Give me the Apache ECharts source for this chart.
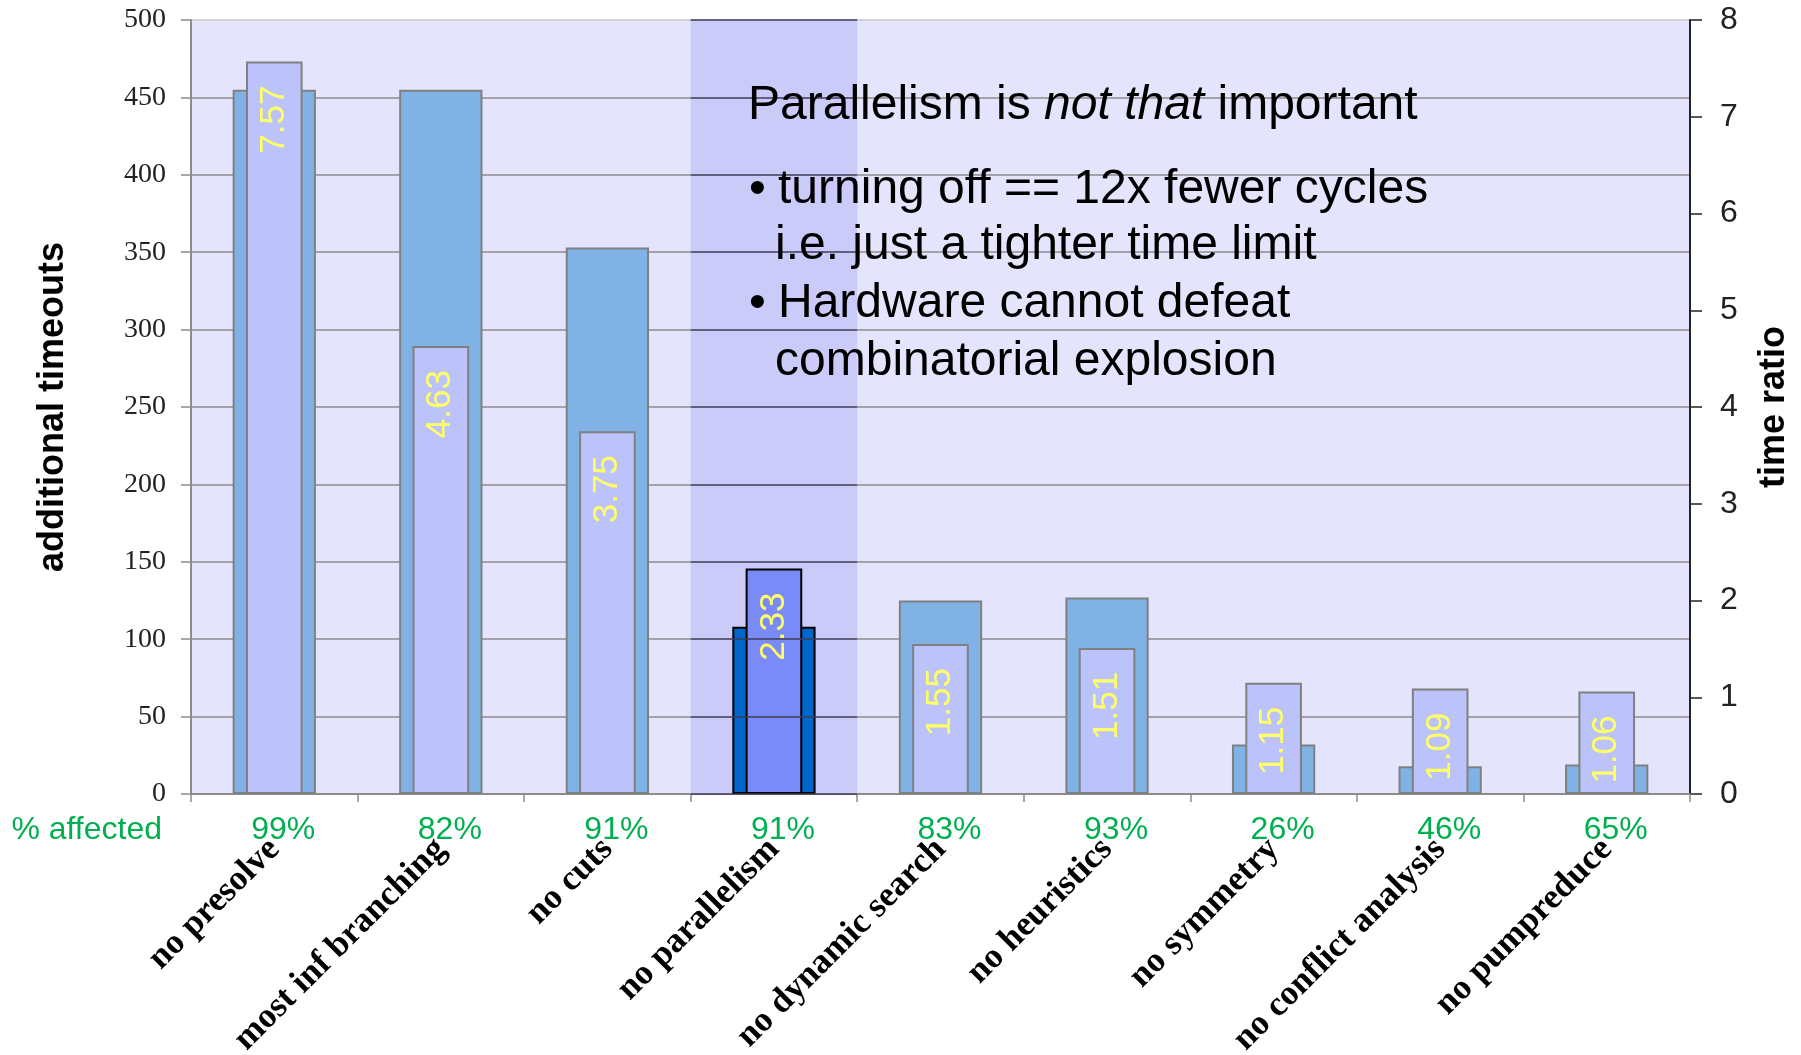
<!DOCTYPE html>
<html>
<head>
<meta charset="utf-8">
<script src="https://cdn.jsdelivr.net/npm/echarts@6/dist/echarts.min.js"></script>
<style>
html,body{margin:0;padding:0;background:#fff;}
#chart{width:1801px;height:1055px;}
</style>
</head>
<body>
<div id="chart"></div>
<script>
// ---- data ----
const categories = ['no presolve', 'most inf branching', 'no cuts', 'no parallelism', 'no dynamic search', 'no heuristics', 'no symmetry', 'no conflict analysis', 'no pumpreduce'];
const additionalTimeouts = [455, 455, 353, 108, 125, 127, 32, 18, 19];
const timeRatios = [7.57, 4.63, 3.75, 2.33, 1.55, 1.51, 1.15, 1.09, 1.06];
const affectedPct = ['99%', '82%', '91%', '91%', '83%', '93%', '26%', '46%', '65%'];
const affectedLabel = '% affected';
const highlightCategory = 'no parallelism';
const leftTicks = [0, 50, 100, 150, 200, 250, 300, 350, 400, 450, 500];
const rightTicks = [0, 1, 2, 3, 4, 5, 6, 7, 8];
const noteTitle = ['Parallelism is ', 'not that', ' important'];
const noteLines = [
  { bullet: true, text: 'turning off == 12x fewer cycles' },
  { bullet: false, text: 'i.e. just a tighter time limit' },
  { bullet: true, text: 'Hardware cannot defeat' },
  { bullet: false, text: 'combinatorial explosion' }
];

// ---- build ----
const hi = categories.indexOf(highlightCategory);
const SANS = '"Liberation Sans", Arial, sans-serif';
const SERIF = '"Liberation Serif", "Times New Roman", serif';
const GREEN = '#00b050';
const NOTE_FS = 48;

const timeoutData = additionalTimeouts.map((v, i) => i === hi
  ? { value: v, itemStyle: { color: '#0066cc', borderColor: '#000', borderWidth: 2 } }
  : v);
const ratioData = timeRatios.map((v, i) => i === hi
  ? { value: v, itemStyle: { color: '#7a8bf7', borderColor: '#000', borderWidth: 2 } }
  : v);

const splitColors = leftTicks.map((t, i) => i === leftTicks.length - 1 ? '#c8c8c8' : '#8c8c8c');

const chart = echarts.init(document.getElementById('chart'), null, { renderer: 'canvas' });

const graphics = [];
graphics.push({
  type: 'text', left: 748, top: 82, z: 100,
  style: {
    text: '{a|' + noteTitle[0] + '}{b|' + noteTitle[1] + '}{a|' + noteTitle[2] + '}',
    rich: {
      a: { fontFamily: SANS, fontSize: NOTE_FS, fill: '#000' },
      b: { fontFamily: SANS, fontSize: NOTE_FS, fontStyle: 'italic', fill: '#000' }
    }
  }
});
const lineMid = [190, 246, 304, 362];
noteLines.forEach((ln, i) => {
  if (ln.bullet) {
    graphics.push({ type: 'text', z: 100, style: { x: 749, y: lineMid[i], text: '•', font: NOTE_FS + 'px ' + SANS, fill: '#000', verticalAlign: 'middle' } });
  }
  graphics.push({ type: 'text', z: 100, style: { x: ln.bullet ? 778 : 775, y: lineMid[i], text: ln.text, font: NOTE_FS + 'px ' + SANS, fill: '#000', verticalAlign: 'middle' } });
});
graphics.push({ type: 'text', z: 100, style: { x: 162, y: 830, text: affectedLabel, font: '32px ' + SANS, fill: GREEN, align: 'right', verticalAlign: 'middle' } });

const option = {
  animation: false,
  backgroundColor: '#ffffff',
  grid: { left: 191, right: 111, top: 20, bottom: 261, show: true, backgroundColor: '#e4e4fc', borderWidth: 0,
    containLabel: false, outerBoundsMode: 'none' },
  xAxis: [
    {
      type: 'category', data: categories, position: 'bottom',
      axisLine: { show: true, lineStyle: { color: '#8c8c8c', width: 2 } },
      axisTick: { show: true, length: 8, lineStyle: { color: '#8c8c8c', width: 1.5 } },
      axisLabel: { interval: 0, rotate: 45, margin: 50, fontFamily: SERIF, fontWeight: 'bold', fontSize: 35, color: '#000' },
      splitLine: { show: false }
    },
    {
      type: 'category', data: categories, position: 'bottom', offset: 36,
      axisLine: { show: false }, axisTick: { show: false }, splitLine: { show: false },
      axisLabel: { interval: 0, margin: 0, verticalAlign: 'middle', fontFamily: SANS, fontSize: 32, color: GREEN,
        padding: [0, 0, 0, 18],
        formatter: (v, i) => affectedPct[i] }
    },
    { type: 'value', min: 0, max: categories.length, show: false }
  ],
  yAxis: [
    {
      type: 'value', min: 0, max: 500, interval: 50, position: 'left',
      axisLine: { show: true, lineStyle: { color: '#8c8c8c', width: 2 } },
      axisTick: { show: true, length: 10, lineStyle: { color: '#8c8c8c', width: 1.5 } },
      axisLabel: { margin: 25, fontFamily: SERIF, fontSize: 28, color: '#222' },
      splitLine: { show: true, lineStyle: { color: splitColors, width: 1.5 } },
      name: 'additional timeouts', nameLocation: 'middle', nameGap: 120, nameRotate: 90,
      nameTextStyle: { fontFamily: SANS, fontWeight: 'bold', fontSize: 36, color: '#000' }
    },
    {
      type: 'value', min: 0, max: 8, interval: 1, position: 'right',
      axisLine: { show: true, lineStyle: { color: '#222', width: 2 } },
      axisTick: { show: true, length: 12, lineStyle: { color: '#222', width: 1.5 } },
      axisLabel: { margin: 30, fontFamily: SANS, fontSize: 32, color: '#222' },
      splitLine: { show: false },
      name: 'time ratio', nameLocation: 'middle', nameGap: 66, nameRotate: 90,
      nameTextStyle: { fontFamily: SANS, fontWeight: 'bold', fontSize: 36, color: '#000' }
    }
  ],
  series: [
    {
      type: 'line', xAxisIndex: 2, yAxisIndex: 0, z: 1, silent: true,
      data: [[hi, 0]], showSymbol: false, symbol: 'none', lineStyle: { opacity: 0 },
      markArea: { silent: true, itemStyle: { color: '#cbcbfa' }, data: [[{ xAxis: hi }, { xAxis: hi + 1 }]] },
      markLine: {
        silent: true, symbol: 'none', label: { show: false },
        lineStyle: { color: '#3c3c55', width: 1.5, type: 'solid' },
        data: leftTicks.map(t => [{ coord: [hi, t] }, { coord: [hi + 1, t] }])
      }
    },
    {
      name: 'additional timeouts', type: 'bar', xAxisIndex: 0, yAxisIndex: 0, z: 3,
      barWidth: '50%', data: timeoutData,
      itemStyle: { color: '#80b2e5', borderColor: '#808080', borderWidth: 2 }
    },
    {
      name: 'time ratio', type: 'bar', xAxisIndex: 1, yAxisIndex: 1, z: 4,
      barWidth: '34%', data: ratioData,
      itemStyle: { color: '#bbc3fa', borderColor: '#808080', borderWidth: 2 },
      label: {
        show: true, position: 'insideTop', rotate: 90, align: 'right', verticalAlign: 'middle', distance: 24,
        fontFamily: SANS, fontSize: 35, color: '#ffff66',
        formatter: p => p.value.toFixed(2)
      }
    }
  ],
  graphic: graphics
};
chart.setOption(option);
</script>
</body>
</html>
